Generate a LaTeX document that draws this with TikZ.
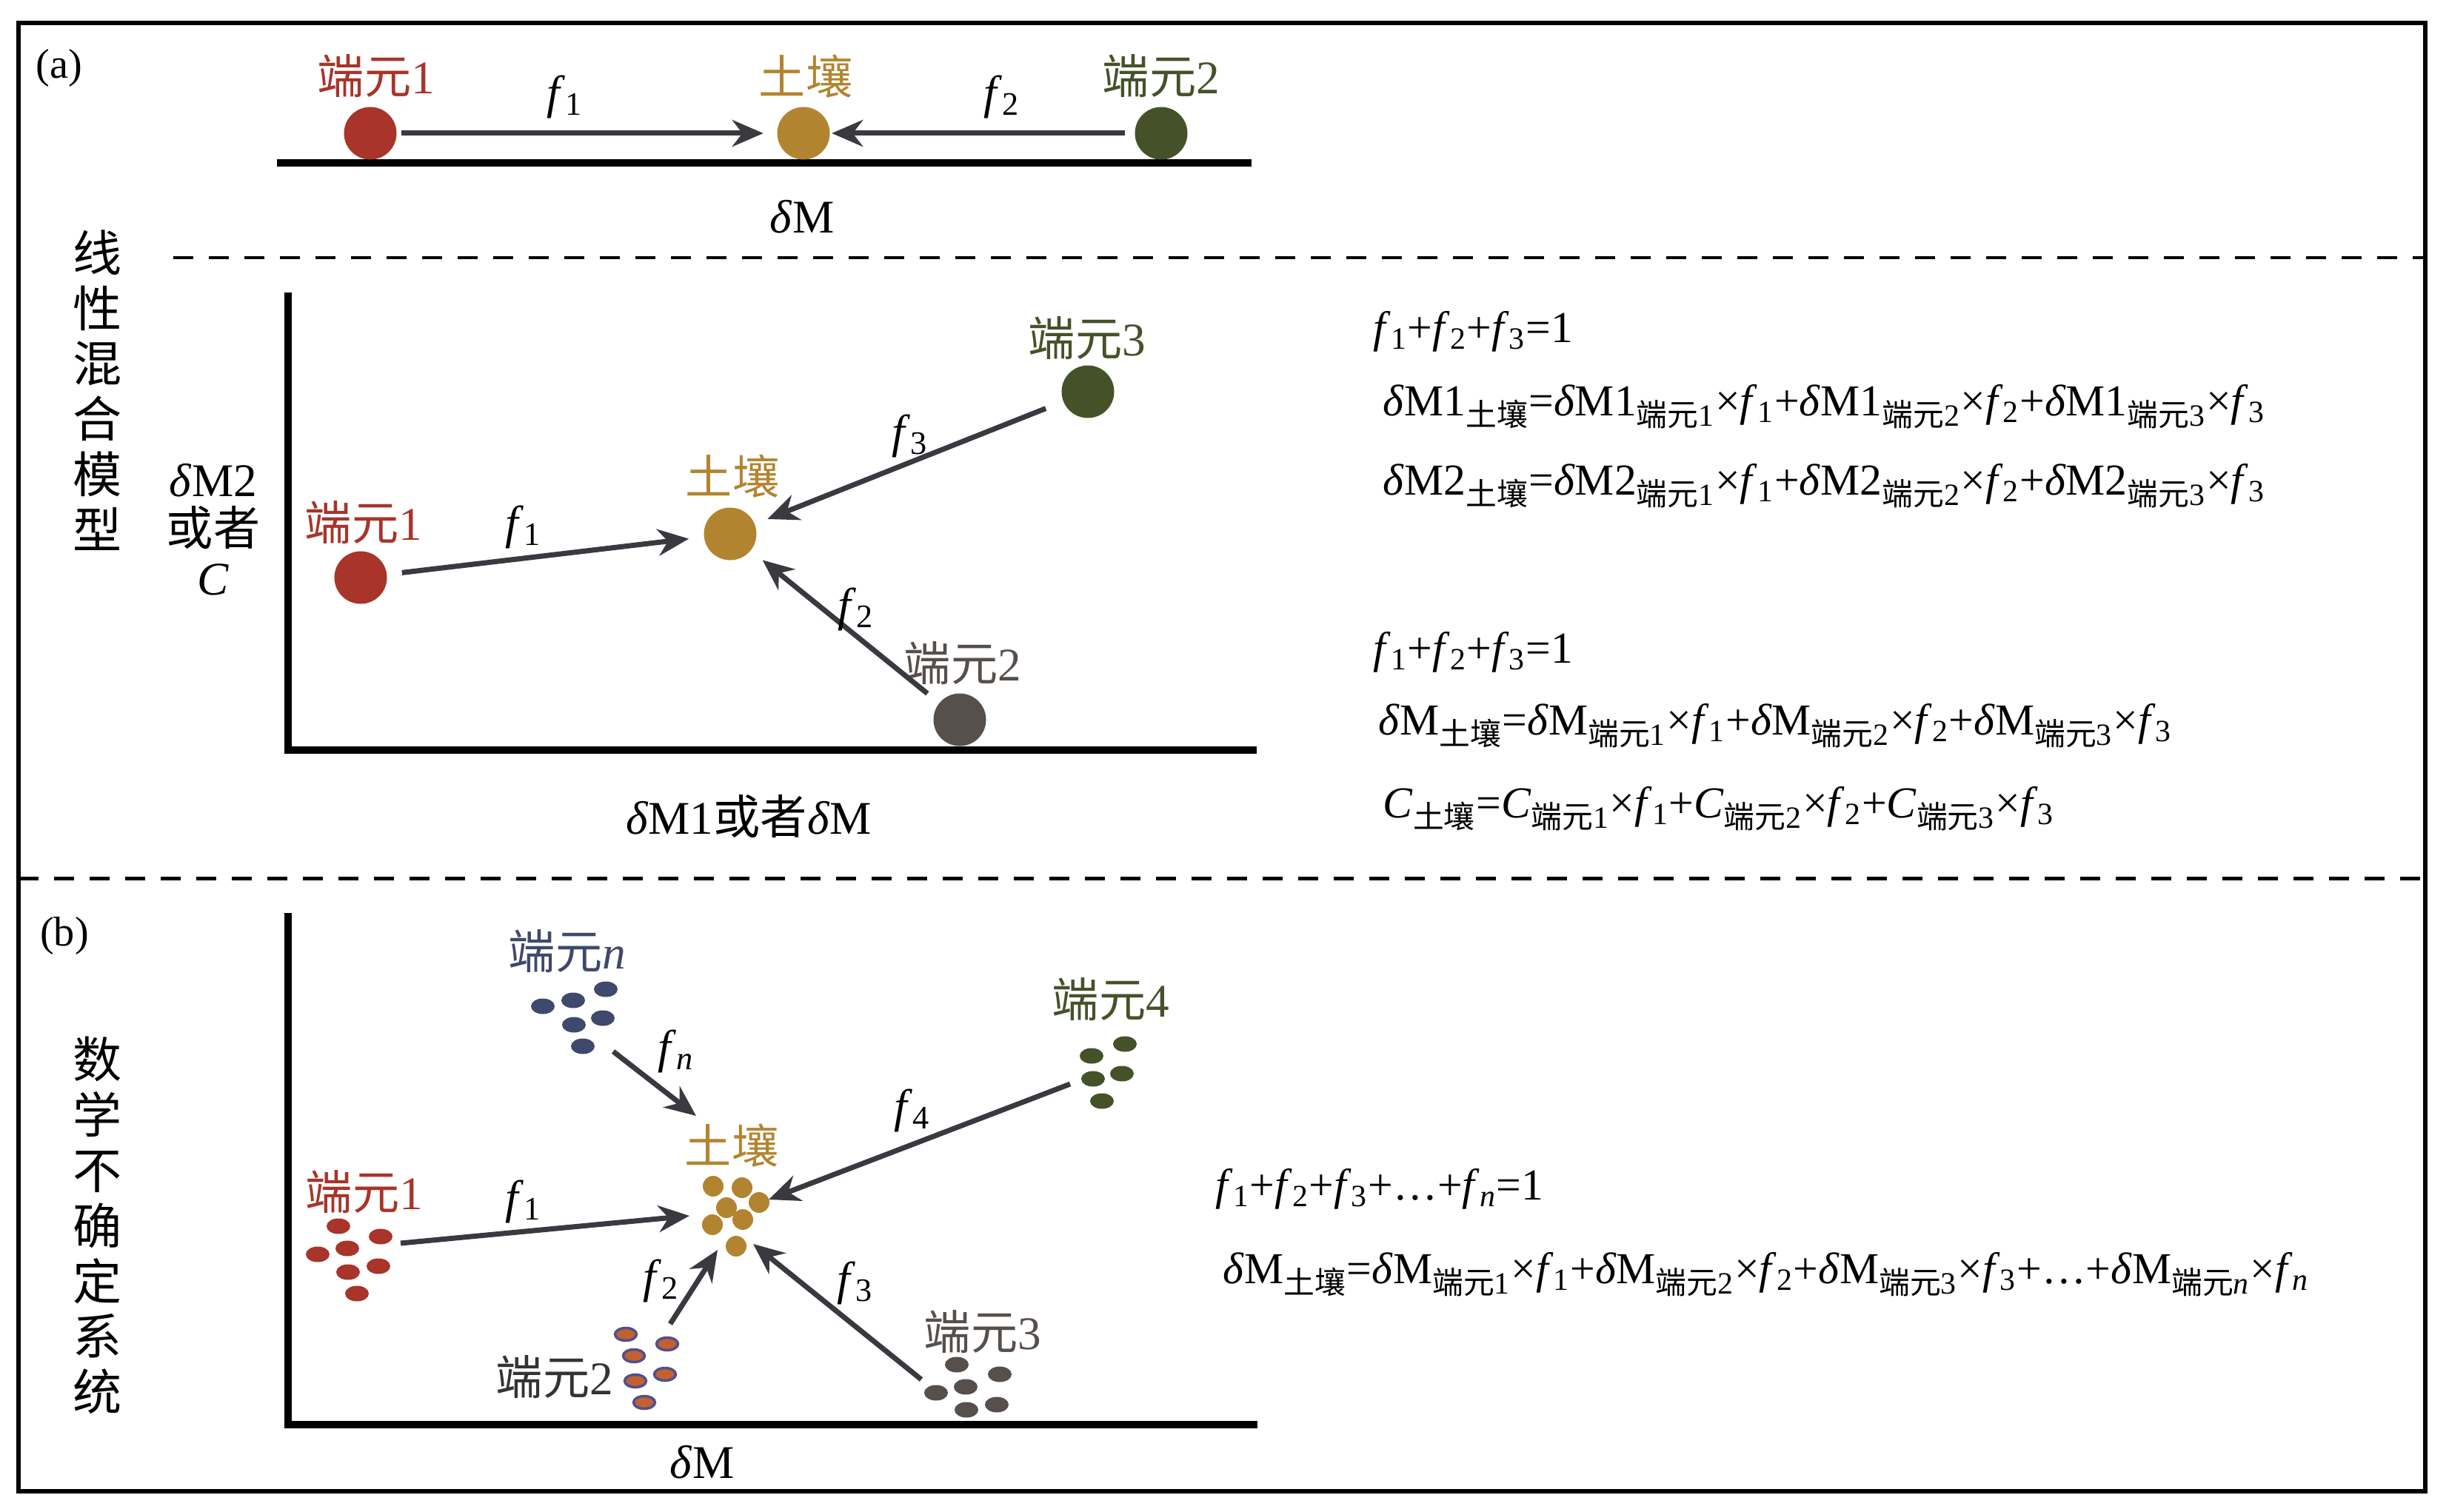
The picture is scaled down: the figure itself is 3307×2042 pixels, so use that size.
\documentclass[tikz,border=0pt]{standalone}
\usepackage{fontspec}
\setmainfont{Liberation Serif}
\newfontfamily\cjk{Noto Sans CJK SC}
\usetikzlibrary{arrows.meta,positioning}

\definecolor{redem}{HTML}{A8342A}
\definecolor{soilc}{HTML}{B38430}
\definecolor{greenem}{HTML}{455229}
\definecolor{greyem}{HTML}{574F4C}
\definecolor{navyem}{HTML}{3E496B}
\definecolor{orangeem}{HTML}{C2612F}
\definecolor{ringem}{HTML}{4F508F}
\definecolor{arrowc}{HTML}{3A3940}

\newcommand{\dy}[1]{{\cjk 端元}#1}
\newcommand{\tr}{{\cjk 土壤}}
\newcommand{\ff}[1]{\textit{f}\textsubscript{#1}}
\newcommand{\dM}{\textit{δ}M}
\newcommand{\lo}[1]{\textsubscript{#1}}

\tikzset{
  ball/.style={circle,inner sep=0pt,minimum size=7.1mm},
  lab/.style={font=\fontsize{18}{20}\selectfont,inner sep=0pt},
  eq/.style={font=\fontsize{17}{19}\selectfont,anchor=base west,inner sep=0pt},
  arr/.style={-{Stealth[length=4.2mm,width=3.6mm]},line width=0.7mm,draw=arrowc},
  axis/.style={line width=1mm,line cap=rect},
  sep/.style={line width=0.5mm,dash pattern=on 2.7mm off 2.1mm}
}

\begin{document}
\begin{tikzpicture}[x=0.1mm,y=-0.1mm]
  \useasboundingbox (0,0) rectangle (3307,2042);
  \draw[line width=0.6mm] (25,31) rectangle (3275,2014);
  \draw[sep] (234,348) -- (3275,348);
  \draw[sep] (25,1186) -- (3275,1186);

  \node[font=\fontsize{16}{18}\selectfont] (la) at (80,92) {(a)};
  \node[font=\fontsize{16}{18}\selectfont] (lb) at (87,1264) {(b)};
  \node[font=\fontsize{18.8}{21.3}\selectfont\cjk,align=center,inner sep=0pt] (tA) at (132,527)
    {线\\性\\混\\合\\模\\型};
  \node[font=\fontsize{18.8}{21.3}\selectfont\cjk,align=center,inner sep=0pt] (tB) at (132,1655)
    {数\\学\\不\\确\\定\\系\\统};

  % (a) one axis
  \draw[axis] (379,220) -- (1685,220);
  \node[ball,fill=redem] (a1) at (500,180) {};
  \node[ball,fill=soilc] (as) at (1085,180) {};
  \node[ball,fill=greenem] (a2) at (1568,180) {};
  \node[lab,text=redem] (a1l) at (508,103) {\dy{1}};
  \node[lab,text=soilc] (asl) at (1088,103) {\tr};
  \node[lab,text=greenem] (a2l) at (1568,103) {\dy{2}};
  \draw[arr,shorten <=0.6mm,shorten >=1.8mm] (a1) -- (as);
  \draw[arr,shorten <=1.3mm,shorten >=0.2mm] (a2) -- (as);
  \node[lab] (af1) at (763,131) {\ff1};
  \node[lab] (af2) at (1353,131) {\ff2};
  \node[lab] (ax) at (1083,293) {\dM};

  % (a) two axes
  \draw[axis] (389,400) |- (1692,1013);
  \node[ball,fill=redem] (b1) at (487,780) {};
  \node[ball,fill=soilc] (bs) at (986,721) {};
  \node[ball,fill=greenem] (b3) at (1469,529) {};
  \node[ball,fill=greyem] (b2) at (1296,972) {};
  \node[lab,text=redem] (b1l) at (491,706) {\dy{1}};
  \node[lab,text=soilc] (bsl) at (989,643) {\tr};
  \node[lab,text=greenem] (b3l) at (1468,457) {\dy{3}};
  \node[lab,text=greyem] (b2l) at (1300,896) {\dy{2}};
  \draw[arr,shorten <=2mm,shorten >=2mm] (b1) -- (bs);
  \draw[arr,shorten <=2.5mm,shorten >=1.8mm] (b3) -- (bs);
  \draw[arr,shorten <=2mm,shorten >=2mm] (b2) -- (bs);
  \node[lab] (bf1) at (707,712) {\ff1};
  \node[lab] (bf3) at (1229,589) {\ff3};
  \node[lab] (bf2) at (1156,823) {\ff2};
  \node[lab,align=center,font=\fontsize{18}{19}\selectfont] (by) at (288,715)
    {\dM2\\{\cjk 或者}\\\textit{C}};
  \node[lab] (bx) at (1011,1102) {\dM1{\cjk 或者}\dM};

  \node[eq] (e1) at (1854,462) {\ff1+\ff2+\ff3=1};
  \node[eq] (e2) at (1867,561) {\dM1\lo{\tr}=\dM1\lo{\dy{1}}×\ff1+\dM1\lo{\dy{2}}×\ff2+\dM1\lo{\dy{3}}×\ff3};
  \node[eq] (e3) at (1867,668) {\dM2\lo{\tr}=\dM2\lo{\dy{1}}×\ff1+\dM2\lo{\dy{2}}×\ff2+\dM2\lo{\dy{3}}×\ff3};
  \node[eq] (e4) at (1854,895) {\ff1+\ff2+\ff3=1};
  \node[eq] (e5) at (1861,992) {\dM\lo{\tr}=\dM\lo{\dy{1}}×\ff1+\dM\lo{\dy{2}}×\ff2+\dM\lo{\dy{3}}×\ff3};
  \node[eq] (e6) at (1867,1104) {\textit{C}\lo{\tr}=\textit{C}\lo{\dy{1}}×\ff1+\textit{C}\lo{\dy{2}}×\ff2+\textit{C}\lo{\dy{3}}×\ff3};

  % (b) clusters
  \draw[axis] (389,1238) |- (1693,1924);
  \foreach \x/\y in {818/1336,774/1351,733/1359,814/1375,775/1384,787/1413}
    \fill[navyem] (\x,\y) ellipse [x radius=1.6mm,y radius=1.05mm];
  \foreach \x/\y in {457/1656,514/1670,429/1694,469/1686,511/1710,470/1718,482/1747}
    \fill[redem] (\x,\y) ellipse [x radius=1.6mm,y radius=1.05mm];
  \foreach \x/\y in {1519/1410,1474/1426,1515/1450,1476/1457,1488/1487}
    \fill[greenem] (\x,\y) ellipse [x radius=1.6mm,y radius=1.05mm];
  \foreach \x/\y in {1292/1843,1350/1856,1264/1881,1304/1873,1346/1897,1305/1904}
    \fill[greyem] (\x,\y) ellipse [x radius=1.6mm,y radius=1.05mm];
  \foreach \x/\y in {845/1802,901/1815,856/1831,898/1856,858/1865,870/1894}
    \filldraw[fill=orangeem,draw=ringem,line width=0.35mm] (\x,\y) ellipse [x radius=1.45mm,y radius=0.85mm];
  \foreach \x/\y in {963/1602,1002/1604,981/1631,1025/1624,962/1654,1003/1647,994/1683}
    \fill[soilc] (\x,\y) circle [radius=1.4mm];

  \node[lab,text=navyem] (cnl) at (766,1285) {{\cjk 端元}\textit{n}};
  \node[lab,text=greenem] (c4l) at (1500,1350) {\dy{4}};
  \node[lab,text=soilc] (csl) at (988,1547) {\tr};
  \node[lab,text=redem] (c1l) at (492,1610) {\dy{1}};
  \node[lab,text=black!80] (c2l) at (749,1860) {\dy{2}};
  \node[lab,text=greyem] (c3l) at (1327,1799) {\dy{3}};

  \coordinate (cns) at (828,1420);  \coordinate (cne) at (940,1507);
  \coordinate (c4s) at (1445,1464); \coordinate (c4e) at (1038,1620);
  \coordinate (c1s) at (541,1679);  \coordinate (c1e) at (931,1642);
  \coordinate (c2s) at (905,1788);  \coordinate (c2e) at (969,1688);
  \coordinate (c3s) at (1244,1863); \coordinate (c3e) at (1017,1680);
  \draw[arr] (cns) -- (cne);
  \draw[arr] (c4s) -- (c4e);
  \draw[arr] (c1s) -- (c1e);
  \draw[arr] (c2s) -- (c2e);
  \draw[arr] (c3s) -- (c3e);
  \node[lab] (cfn) at (913,1420) {\ff{\textit{n}}};
  \node[lab] (cf4) at (1232,1500) {\ff4};
  \node[lab] (cf1) at (707,1623) {\ff1};
  \node[lab] (cf2) at (893,1730) {\ff2};
  \node[lab] (cf3) at (1155,1733) {\ff3};
  \node[lab] (cx) at (948,1975) {\dM};

  \node[eq] (g1) at (1641,1620) {\ff1+\ff2+\ff3+…+\ff{\textit{n}}=1};
  \node[eq] (g2) at (1651,1733) {\dM\lo{\tr}=\dM\lo{\dy{1}}×\ff1+\dM\lo{\dy{2}}×\ff2+\dM\lo{\dy{3}}×\ff3+…+\dM\lo{{\cjk 端元}\textit{n}}×\ff{\textit{n}}};
\end{tikzpicture}
\end{document}
